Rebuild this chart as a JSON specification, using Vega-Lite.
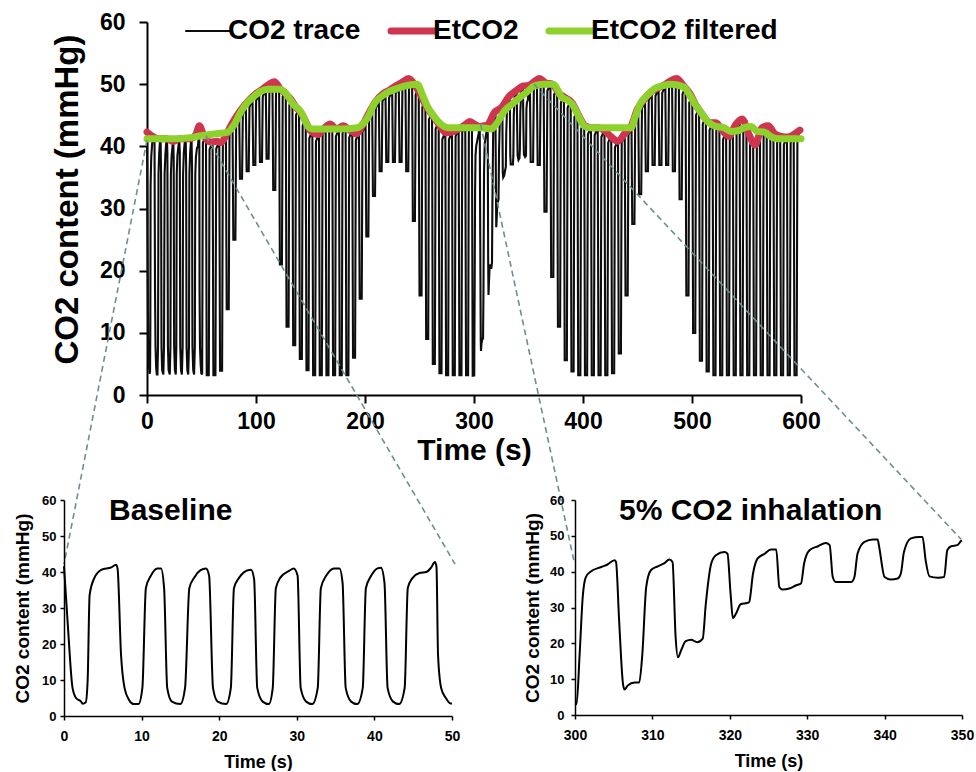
{
  "$schema": "https://vega.github.io/schema/vega-lite/v6.json",
  "padding": {"left": 13, "top": 11, "right": 0, "bottom": 0},
  "bounds": "flush",
  "spacing": 478,
  "config": {
    "font": "Liberation Sans",
    "view": {"stroke": null},
    "axis": {"labelFont": "Liberation Sans", "titleFont": "Liberation Sans", "labelFontWeight": "bold", "titleFontWeight": "bold", "labelColor": "black", "titleColor": "black", "domainColor": "black", "tickColor": "black", "grid": false, "labelFlush": false, "labelOverlap": false}
  },
  "datasets": {
    "trace": [
      {"t":0,"v":41.6},{"t":0.5,"v":25},{"t":1.1,"v":7.8},{"t":1.55,"v":5},{"t":2.2,"v":4},{"t":2.4,"v":3.4},{"t":2.8,"v":3.8},{"t":3.05,"v":10},{"t":3.3,"v":33.6},{"t":3.9,"v":38.3},{"t":4.8,"v":40.6},{"t":6.1,"v":41.3},{"t":6.7,"v":42},{"t":6.9,"v":41},{"t":7.35,"v":17},{"t":7.8,"v":7.8},{"t":8.4,"v":4.4},{"t":9,"v":3.3},{"t":9.6,"v":3.3},{"t":10.1,"v":7.8},{"t":10.55,"v":35.5},{"t":11.2,"v":39},{"t":12,"v":41},{"t":12.5,"v":41},{"t":12.9,"v":35.5},{"t":13.3,"v":7.8},{"t":13.9,"v":4},{"t":15,"v":3.3},{"t":15.6,"v":7.8},{"t":16.15,"v":35.5},{"t":16.8,"v":38.5},{"t":17.6,"v":40.5},{"t":18.3,"v":41},{"t":18.7,"v":39},{"t":19.2,"v":7.8},{"t":19.8,"v":4},{"t":20.9,"v":3.3},{"t":21.5,"v":7.8},{"t":21.9,"v":35.5},{"t":22.6,"v":38.5},{"t":23.7,"v":40.5},{"t":24.1,"v":40.6},{"t":24.5,"v":38},{"t":24.9,"v":7.8},{"t":25.6,"v":4},{"t":26.4,"v":3.3},{"t":26.9,"v":7.8},{"t":27.3,"v":35.5},{"t":27.9,"v":38.5},{"t":29,"v":40.3},{"t":29.6,"v":41},{"t":30.1,"v":39},{"t":30.5,"v":7.8},{"t":31.2,"v":4},{"t":32,"v":3.3},{"t":32.7,"v":7.8},{"t":33.1,"v":35.5},{"t":33.8,"v":39},{"t":34.8,"v":41},{"t":35.5,"v":41},{"t":35.9,"v":37},{"t":36.3,"v":7.8},{"t":37,"v":4},{"t":37.8,"v":3.3},{"t":38.5,"v":7.8},{"t":38.9,"v":35.5},{"t":39.6,"v":39},{"t":40.4,"v":41},{"t":40.85,"v":41.2},{"t":41.3,"v":37},{"t":41.7,"v":7.8},{"t":42.4,"v":4},{"t":43.2,"v":3.3},{"t":43.9,"v":7.8},{"t":44.3,"v":35.5},{"t":44.9,"v":38.3},{"t":45.8,"v":39.7},{"t":46.7,"v":40},{"t":47.3,"v":41.2},{"t":47.8,"v":42.8},{"t":48,"v":41.5},{"t":48.2,"v":17},{"t":48.6,"v":7.8},{"t":49.2,"v":5},{"t":49.8,"v":3.5},{"t":50,"v":3.5},
      {"t":50.6,"v":3.3},{"t":51.3,"v":40.6},{"t":54.1,"v":41.8},{"t":54.8,"v":3.2},
      {"t":56.7,"v":3.2},{"t":57.4,"v":39.5},{"t":60.2,"v":40.7},{"t":60.9,"v":3.2},
      {"t":62.8,"v":3.2},{"t":63.5,"v":39.6},{"t":66.3,"v":40.8},{"t":67,"v":3.9},
      {"t":68.9,"v":3.9},{"t":69.6,"v":40.4},{"t":72.4,"v":41.6},{"t":73.1,"v":13.8},
      {"t":75,"v":13.8},{"t":75.7,"v":41.8},{"t":78.5,"v":43},{"t":79.2,"v":25},
      {"t":81.1,"v":25},{"t":81.8,"v":43.6},{"t":84.6,"v":44.8},{"t":85.3,"v":34.8},
      {"t":87.2,"v":34.8},{"t":87.9,"v":45.1},{"t":90.7,"v":46.3},{"t":91.4,"v":36},
      {"t":93.3,"v":36},{"t":94,"v":46.3},{"t":96.8,"v":47.5},{"t":97.5,"v":37},
      {"t":99.4,"v":37},{"t":100.1,"v":47.3},{"t":102.9,"v":48.5},{"t":103.6,"v":37.5},
      {"t":105.5,"v":37.5},{"t":106.2,"v":48},{"t":109,"v":49.2},{"t":109.7,"v":38},
      {"t":111.6,"v":38},{"t":112.3,"v":48.8},{"t":115.1,"v":50},{"t":115.8,"v":33},
      {"t":117.7,"v":33},{"t":118.4,"v":49.1},{"t":121.2,"v":50.3},{"t":121.9,"v":21},
      {"t":123.8,"v":21},{"t":124.5,"v":48},{"t":127.3,"v":49.2},{"t":128,"v":11},
      {"t":129.9,"v":11},{"t":130.6,"v":46.6},{"t":133.4,"v":47.8},{"t":134.1,"v":8},
      {"t":136,"v":8},{"t":136.7,"v":45},{"t":139.5,"v":46.2},{"t":140.2,"v":5.8},
      {"t":142.1,"v":5.8},{"t":142.8,"v":43.3},{"t":145.6,"v":44.5},{"t":146.3,"v":4},
      {"t":148.2,"v":4},{"t":148.9,"v":41.3},{"t":151.7,"v":42.5},{"t":152.4,"v":3.2},
      {"t":154.3,"v":3.2},{"t":155,"v":40.8},{"t":157.8,"v":42},{"t":158.5,"v":3.2},
      {"t":160.4,"v":3.2},{"t":161.1,"v":41.9},{"t":163.9,"v":43.1},{"t":164.6,"v":3.2},
      {"t":166.5,"v":3.2},{"t":167.2,"v":42.4},{"t":170,"v":43.6},{"t":170.7,"v":3.2},
      {"t":172.6,"v":3.2},{"t":173.3,"v":41.6},{"t":176.1,"v":42.8},{"t":176.8,"v":3.2},
      {"t":178.7,"v":3.2},{"t":179.4,"v":42.1},{"t":182.2,"v":43.3},{"t":182.9,"v":3.2},
      {"t":184.8,"v":3.2},{"t":185.5,"v":41.4},{"t":188.3,"v":42.6},{"t":189,"v":6},
      {"t":190.9,"v":6},{"t":191.6,"v":41},{"t":194.4,"v":42.2},{"t":195.1,"v":15.5},
      {"t":197,"v":15.5},{"t":197.7,"v":42.3},{"t":200.5,"v":43.5},{"t":201.2,"v":25.5},
      {"t":203.1,"v":25.5},{"t":203.8,"v":44.3},{"t":206.6,"v":45.5},{"t":207.3,"v":32},
      {"t":209.2,"v":32},{"t":209.9,"v":46.1},{"t":212.7,"v":47.3},{"t":213.4,"v":36},
      {"t":215.3,"v":36},{"t":216,"v":47.2},{"t":218.8,"v":48.4},{"t":219.5,"v":37.5},
      {"t":221.4,"v":37.5},{"t":222.1,"v":47.8},{"t":224.9,"v":49},{"t":225.6,"v":37.5},
      {"t":227.5,"v":37.5},{"t":228.2,"v":48.5},{"t":231,"v":49.7},{"t":231.7,"v":37.5},
      {"t":233.6,"v":37.5},{"t":234.3,"v":49.1},{"t":237.1,"v":50.3},{"t":237.8,"v":36},
      {"t":239.7,"v":36},{"t":240.4,"v":49.7},{"t":243.2,"v":50.9},{"t":243.9,"v":28},
      {"t":245.8,"v":28},{"t":246.5,"v":48.3},{"t":249.3,"v":49.5},{"t":250,"v":16},
      {"t":251.9,"v":16},{"t":252.6,"v":46.3},{"t":255.4,"v":47.5},{"t":256.1,"v":9},
      {"t":258,"v":9},{"t":258.7,"v":44.3},{"t":261.5,"v":45.5},{"t":262.2,"v":5},
      {"t":264.1,"v":5},{"t":264.8,"v":42.8},{"t":267.6,"v":44},{"t":268.3,"v":3.5},
      {"t":270.2,"v":3.5},{"t":270.9,"v":41.1},{"t":273.7,"v":42.3},{"t":274.4,"v":3.2},
      {"t":276.3,"v":3.2},{"t":277,"v":41.1},{"t":279.8,"v":42.3},{"t":280.5,"v":3.2},
      {"t":282.4,"v":3.2},{"t":283.1,"v":41.6},{"t":285.9,"v":42.8},{"t":286.6,"v":3.2},
      {"t":288.5,"v":3.2},{"t":289.2,"v":42.3},{"t":292,"v":43.5},{"t":292.7,"v":3.2},
      {"t":294.6,"v":3.2},{"t":295.3,"v":42.8},{"t":298.1,"v":44},{"t":298.8,"v":3.1},
      {"t":300,"v":3.1},{"t":300.2,"v":3},{"t":300.6,"v":17},{"t":301,"v":33},{"t":301.4,"v":38.5},{"t":302,"v":40},{"t":303.4,"v":41.3},{"t":304.2,"v":42},{"t":305.1,"v":43.2},{"t":305.3,"v":42.7},{"t":305.7,"v":26.4},{"t":306.2,"v":8.7},{"t":306.4,"v":7.1},{"t":306.8,"v":8.2},{"t":307.7,"v":9.1},{"t":308.3,"v":9.1},{"t":308.7,"v":17},{"t":309.2,"v":35.7},{"t":309.8,"v":40.4},{"t":310.7,"v":41.5},{"t":311.5,"v":42.3},{"t":312.2,"v":43.4},{"t":312.6,"v":42.7},{"t":313,"v":21.7},{"t":313.3,"v":16.1},{"t":313.7,"v":18},{"t":314.3,"v":20.6},{"t":315,"v":21},{"t":315.8,"v":20.3},{"t":316.5,"v":21.3},{"t":316.9,"v":31},{"t":317.6,"v":42.3},{"t":318.2,"v":44.6},{"t":319.3,"v":45.5},{"t":319.7,"v":45},{"t":320.1,"v":33.9},{"t":320.4,"v":27},{"t":320.8,"v":28.3},{"t":321.4,"v":30.9},{"t":322.3,"v":31.3},{"t":322.5,"v":31.5},{"t":323,"v":39.5},{"t":323.6,"v":43.7},{"t":324.5,"v":45},{"t":325.3,"v":46.2},{"t":326,"v":46.2},{"t":326.4,"v":35.7},{"t":326.8,"v":35},{"t":327.7,"v":35.3},{"t":328.6,"v":36.2},{"t":329.2,"v":36.7},{"t":329.6,"v":42.3},{"t":330.3,"v":46},{"t":331.4,"v":47.1},{"t":332.4,"v":48},{"t":332.9,"v":47.4},{"t":333.3,"v":38.5},{"t":333.7,"v":37.1},{"t":335.7,"v":37.1},{"t":336.1,"v":38.5},{"t":336.5,"v":45},{"t":337.4,"v":48.3},{"t":338.5,"v":49},{"t":339.1,"v":49},{"t":339.3,"v":46.9},{"t":340,"v":38.5},{"t":340.8,"v":37.8},{"t":341.7,"v":38.1},{"t":342.1,"v":39.5},{"t":342.5,"v":45.5},{"t":343.4,"v":49.3},{"t":344.5,"v":49.7},{"t":344.9,"v":49.7},{"t":345.3,"v":43.2},{"t":345.8,"v":38.7},{"t":346.9,"v":38.3},{"t":347.7,"v":38.5},{"t":348.1,"v":46},{"t":348.6,"v":47.1},{"t":349.4,"v":47.4},{"t":349.9,"v":48.6},{"t":350,"v":48.7},
      {"t":351.3,"v":49.5},{"t":352,"v":37.5},
      {"t":354.2,"v":37.5},{"t":354.9,"v":49.3},{"t":357.7,"v":50.5},{"t":358.4,"v":37},
      {"t":360.4,"v":37},{"t":361.1,"v":49.7},{"t":363.9,"v":50.9},{"t":364.6,"v":29.5},
      {"t":366.6,"v":29.5},{"t":367.3,"v":48.9},{"t":370.1,"v":50.1},{"t":370.8,"v":19},
      {"t":372.8,"v":19},{"t":373.5,"v":48.3},{"t":376.3,"v":49.5},{"t":377,"v":11},
      {"t":379,"v":11},{"t":379.7,"v":47},{"t":382.5,"v":48.2},{"t":383.2,"v":5.6},
      {"t":385.2,"v":5.6},{"t":385.9,"v":46.2},{"t":388.7,"v":47.4},{"t":389.4,"v":3.8},
      {"t":391.4,"v":3.8},{"t":392.1,"v":44.7},{"t":394.9,"v":45.9},{"t":395.6,"v":3.2},
      {"t":397.6,"v":3.2},{"t":398.3,"v":42.8},{"t":401.1,"v":44},{"t":401.8,"v":3.2},
      {"t":403.8,"v":3.2},{"t":404.5,"v":41.9},{"t":407.3,"v":43.1},{"t":408,"v":3.2},
      {"t":410,"v":3.2},{"t":410.7,"v":41.8},{"t":413.5,"v":43},{"t":414.2,"v":3.2},
      {"t":416.2,"v":3.2},{"t":416.9,"v":41.5},{"t":419.7,"v":42.7},{"t":420.4,"v":3.2},
      {"t":422.4,"v":3.2},{"t":423.1,"v":40.6},{"t":425.9,"v":41.8},{"t":426.6,"v":3.5},
      {"t":428.6,"v":3.5},{"t":429.3,"v":39.8},{"t":432.1,"v":41},{"t":432.8,"v":6.7},
      {"t":434.8,"v":6.7},{"t":435.5,"v":40.6},{"t":438.3,"v":41.8},{"t":439,"v":16},
      {"t":441,"v":16},{"t":441.7,"v":41.8},{"t":444.5,"v":43},{"t":445.2,"v":27.5},
      {"t":447.2,"v":27.5},{"t":447.9,"v":44.4},{"t":450.7,"v":45.6},{"t":451.4,"v":32.3},
      {"t":453.4,"v":32.3},{"t":454.1,"v":46.1},{"t":456.9,"v":47.3},{"t":457.6,"v":36},
      {"t":459.6,"v":36},{"t":460.3,"v":47.4},{"t":463.1,"v":48.6},{"t":463.8,"v":37},
      {"t":465.8,"v":37},{"t":466.5,"v":48.1},{"t":469.3,"v":49.3},{"t":470,"v":37},
      {"t":472,"v":37},{"t":472.7,"v":48.6},{"t":475.5,"v":49.8},{"t":476.2,"v":37},
      {"t":478.2,"v":37},{"t":478.9,"v":49.3},{"t":481.7,"v":50.5},{"t":482.4,"v":36},
      {"t":484.4,"v":36},{"t":485.1,"v":49.7},{"t":487.9,"v":50.9},{"t":488.6,"v":31.5},
      {"t":490.6,"v":31.5},{"t":491.3,"v":48.4},{"t":494.1,"v":49.6},{"t":494.8,"v":16},
      {"t":496.8,"v":16},{"t":497.5,"v":47},{"t":500.3,"v":48.2},{"t":501,"v":10},
      {"t":503,"v":10},{"t":503.7,"v":45},{"t":506.5,"v":46.2},{"t":507.2,"v":5.5},
      {"t":509.2,"v":5.5},{"t":509.9,"v":43.6},{"t":512.7,"v":44.8},{"t":513.4,"v":3.8},
      {"t":515.4,"v":3.8},{"t":516.1,"v":42.6},{"t":518.9,"v":43.8},{"t":519.6,"v":3.2},
      {"t":521.6,"v":3.2},{"t":522.3,"v":42.6},{"t":525.1,"v":43.8},{"t":525.8,"v":3.2},
      {"t":527.8,"v":3.2},{"t":528.5,"v":41.1},{"t":531.3,"v":42.3},{"t":532,"v":3.2},
      {"t":534,"v":3.2},{"t":534.7,"v":41},{"t":537.5,"v":42.2},{"t":538.2,"v":3.2},
      {"t":540.2,"v":3.2},{"t":540.9,"v":42.6},{"t":543.7,"v":43.8},{"t":544.4,"v":3.2},
      {"t":546.4,"v":3.2},{"t":547.1,"v":43},{"t":549.9,"v":44.2},{"t":550.6,"v":3.2},
      {"t":552.6,"v":3.2},{"t":553.3,"v":40.2},{"t":556.1,"v":41.4},{"t":556.8,"v":3.2},
      {"t":558.8,"v":3.2},{"t":559.5,"v":40},{"t":562.3,"v":41.2},{"t":563,"v":3.2},
      {"t":565,"v":3.2},{"t":565.7,"v":42},{"t":568.5,"v":43.2},{"t":569.2,"v":3.2},
      {"t":571.2,"v":3.2},{"t":571.9,"v":41.5},{"t":574.7,"v":42.7},{"t":575.4,"v":3.2},
      {"t":577.4,"v":3.2},{"t":578.1,"v":40.6},{"t":580.9,"v":41.8},{"t":581.6,"v":3.2},
      {"t":583.6,"v":3.2},{"t":584.3,"v":40.3},{"t":587.1,"v":41.5},{"t":587.8,"v":3.2},
      {"t":589.8,"v":3.2},{"t":590.5,"v":40.6},{"t":593.3,"v":41.8},{"t":594,"v":3.2},
      {"t":596,"v":3.2},{"t":596.7,"v":41.4},{"t":599.5,"v":42.6}
    ],
    "etco2": [
      {"t":0,"v":42.3},{"t":6,"v":41.5},{"t":12,"v":41.2},{"t":18,"v":41.2},{"t":24,"v":40.8},{"t":30,"v":41.2},{"t":36,"v":41.2},{"t":41,"v":41.3},{"t":45,"v":42},{"t":48,"v":43.3},{"t":52,"v":41.8},{"t":58,"v":40.7},{"t":64,"v":40.8},{"t":68,"v":40.6},{"t":72,"v":41.6},{"t":76,"v":43},{"t":82,"v":44.8},{"t":88,"v":46.3},{"t":94,"v":47.5},{"t":100,"v":48.5},{"t":106,"v":49.2},{"t":112,"v":50},{"t":117,"v":50.4},{"t":122,"v":49.3},{"t":128,"v":48.3},{"t":132,"v":47.6},{"t":137,"v":46.2},{"t":141,"v":45.5},{"t":145,"v":44.2},{"t":150,"v":42.5},{"t":157,"v":41.9},{"t":163,"v":43},{"t":168,"v":43.6},{"t":174,"v":42.8},{"t":180,"v":43.3},{"t":186,"v":42.6},{"t":192,"v":42},{"t":198,"v":43.5},{"t":204,"v":45.5},{"t":210,"v":47.3},{"t":216,"v":48.4},{"t":222,"v":49},{"t":228,"v":49.7},{"t":234,"v":50.3},{"t":240,"v":50.9},{"t":246,"v":49.8},{"t":250,"v":48.6},{"t":256,"v":46.5},{"t":262,"v":45},{"t":268,"v":43.5},{"t":274,"v":42.2},{"t":280,"v":42.3},{"t":286,"v":42.8},{"t":292,"v":43.5},{"t":296,"v":44},{"t":300,"v":43.6},{"t":305,"v":43.2},{"t":312,"v":43.4},{"t":319,"v":45.5},{"t":325,"v":46.2},{"t":332,"v":48},{"t":339,"v":49},{"t":345,"v":49.7},{"t":350,"v":49.8},{"t":356,"v":50.5},{"t":360,"v":50.9},{"t":366,"v":50.2},{"t":372,"v":50},{"t":378,"v":48.5},{"t":384,"v":47.8},{"t":390,"v":47},{"t":396,"v":45},{"t":402,"v":43.3},{"t":408,"v":43},{"t":414,"v":43},{"t":420,"v":42.5},{"t":426,"v":41.5},{"t":432,"v":40.8},{"t":438,"v":42},{"t":444,"v":43.2},{"t":450,"v":46},{"t":456,"v":47.5},{"t":462,"v":48.7},{"t":468,"v":49.3},{"t":474,"v":49.8},{"t":480,"v":50.5},{"t":486,"v":50.9},{"t":492,"v":49.8},{"t":498,"v":48.5},{"t":504,"v":46.5},{"t":510,"v":45},{"t":516,"v":43.8},{"t":522,"v":43.8},{"t":528,"v":42.5},{"t":534,"v":41.6},{"t":540,"v":43.5},{"t":546,"v":44.4},{"t":552,"v":42},{"t":558,"v":40.2},{"t":564,"v":43},{"t":570,"v":43.3},{"t":576,"v":42},{"t":582,"v":41.6},{"t":588,"v":41.5},{"t":594,"v":42},{"t":599,"v":42.6}
    ],
    "filtered": [
      {"t":0,"v":41.2},{"t":20,"v":41.2},{"t":40,"v":41.4},{"t":50,"v":41.7},{"t":62,"v":42},{"t":74,"v":42.3},{"t":80,"v":43.5},{"t":86,"v":45.5},{"t":92,"v":47},{"t":98,"v":48},{"t":104,"v":48.8},{"t":111,"v":49.2},{"t":122,"v":49.2},{"t":127,"v":48.6},{"t":131,"v":47.6},{"t":135,"v":46.6},{"t":139,"v":46},{"t":143,"v":45},{"t":147,"v":43.4},{"t":152,"v":42.8},{"t":178,"v":42.8},{"t":193,"v":43},{"t":199,"v":43.8},{"t":203,"v":44.8},{"t":209,"v":47},{"t":215,"v":48},{"t":221,"v":48.7},{"t":228,"v":49.2},{"t":236,"v":49.7},{"t":248,"v":50},{"t":252,"v":48.6},{"t":257,"v":46.5},{"t":263,"v":44.9},{"t":270,"v":43.5},{"t":276,"v":43},{"t":306,"v":43},{"t":316,"v":42.8},{"t":322,"v":44},{"t":328,"v":45.7},{"t":335,"v":46.8},{"t":343,"v":48},{"t":349,"v":48.8},{"t":355,"v":49.7},{"t":364,"v":50},{"t":373,"v":50},{"t":377,"v":49},{"t":380,"v":48},{"t":386,"v":47.4},{"t":390,"v":46.8},{"t":395,"v":45.2},{"t":401,"v":43.3},{"t":406,"v":43},{"t":444,"v":43},{"t":448,"v":44.8},{"t":453,"v":47},{"t":459,"v":48.2},{"t":465,"v":49.2},{"t":472,"v":49.7},{"t":481,"v":50},{"t":493,"v":49.5},{"t":497,"v":48.5},{"t":502,"v":47},{"t":508,"v":45.5},{"t":515,"v":43.9},{"t":522,"v":43.2},{"t":529,"v":43},{"t":536,"v":42.4},{"t":542,"v":42.5},{"t":548,"v":43},{"t":554,"v":43.2},{"t":560,"v":42.4},{"t":566,"v":42.3},{"t":573,"v":41.5},{"t":579,"v":41.2},{"t":600,"v":41.2}
    ],
    "links": [
      {"t":0,"v":41,"t2":-76.1,"v2":-27.2},
      {"t":54,"v":41.7,"t2":282.6,"v2":-27.2},
      {"t":306,"v":43.6,"t2":391.7,"v2":-26.7},
      {"t":355,"v":50,"t2":746.8,"v2":-23.2}
    ]
  },
  "vconcat": [
    {
      "bounds": "flush",
      "spacing": 20,
      "hconcat": [
        {
          "width": 63, "height": 373,
          "data": {"values": [{"a": 0}]},
          "mark": {"type": "point", "opacity": 0},
          "encoding": {}
        },
        {
          "width": 654, "height": 373,
          "encoding": {
            "x": {"field": "t", "type": "quantitative", "scale": {"domain": [0, 600], "nice": false},
              "axis": {"values": [0,100,200,300,400,500,600], "title": "Time (s)", "titleFontSize": 30, "labelFontSize": 23, "tickSize": 8, "tickWidth": 2, "domainWidth": 2, "labelPadding": 7, "titlePadding": 2}},
            "y": {"field": "v", "type": "quantitative", "scale": {"domain": [0, 60], "nice": false},
              "axis": {"values": [0,10,20,30,40,50,60], "title": "CO2 content (mmHg)", "titleFontSize": 33, "titleY": 177, "labelFontSize": 23, "tickSize": 8, "tickWidth": 2, "domainWidth": 2, "labelPadding": 14, "titlePadding": 15}}
          },
          "layer": [
            {
              "data": {"name": "trace"},
              "mark": {"type": "line", "strokeWidth": 2.1},
              "encoding": {
                "color": {"datum": "CO2 trace", "type": "nominal",
                  "scale": {"domain": ["CO2 trace", "EtCO2", "EtCO2 filtered"], "range": ["#0d0d0d", "#d0354f", "#8ed12c"]},
                  "legend": {"orient": "none", "legendX": 130, "legendY": -5, "direction": "horizontal", "title": null, "padding": 0,
                    "symbolType": "stroke", "symbolSize": 1936, "symbolStrokeWidth": 7, "labelFontSize": 28, "labelFontWeight": "bold", "labelFont": "Liberation Sans", "labelColor": "black", "labelLimit": 400, "labelOffset": 6, "columnPadding": 16,
                    "encode": {"symbols": {"update": {"strokeWidth": {"signal": "datum.value === 'CO2 trace' ? 2 : 7"}, "strokeCap": {"value": "round"}}}}}
                }
              }
            },
            {
              "data": {"name": "etco2"},
              "mark": {"type": "line", "strokeWidth": 7, "interpolate": "monotone", "strokeCap": "round"},
              "encoding": {"color": {"datum": "EtCO2", "type": "nominal"}}
            },
            {
              "data": {"name": "filtered"},
              "mark": {"type": "line", "strokeWidth": 7, "interpolate": "monotone", "strokeCap": "round"},
              "encoding": {"color": {"datum": "EtCO2 filtered", "type": "nominal"}}
            },
            {
              "data": {"name": "links"},
              "mark": {"type": "rule", "strokeDash": [6, 4], "strokeWidth": 1.6, "color": "#6c8f8f"},
              "encoding": {"x2": {"field": "t2"}, "y2": {"field": "v2"}}
            }
          ]
        }
      ]
    },
    {
      "bounds": "flush",
      "spacing": 123,
      "hconcat": [
        {
          "width": 388, "height": 216,
          "title": {"text": "Baseline", "anchor": "start", "frame": "group", "dx": 45, "offset": -32, "fontSize": 30, "fontWeight": "bold", "font": "Liberation Sans", "color": "black"},
          "data": {"name": "trace"},
          "transform": [{"filter": "datum.t <= 50"}],
          "mark": {"type": "line", "color": "black", "strokeWidth": 2, "interpolate": "monotone"},
          "encoding": {
            "x": {"field": "t", "type": "quantitative", "scale": {"domain": [0, 50], "nice": false},
              "axis": {"values": [0,10,20,30,40,50], "title": "Time (s)", "titleFontSize": 18, "labelFontSize": 14, "tickSize": 4, "tickWidth": 1.5, "domainWidth": 1.5, "labelPadding": 9, "titlePadding": 10}},
            "y": {"field": "v", "type": "quantitative", "scale": {"domain": [0, 60], "nice": false},
              "axis": {"values": [0,10,20,30,40,50,60], "title": "CO2 content (mmHg)", "titleFontSize": 19, "labelFontSize": 13, "tickSize": 4, "tickWidth": 1.5, "domainWidth": 1.5, "labelPadding": 4, "titlePadding": 9}}
          }
        },
        {
          "width": 387, "height": 215,
          "title": {"text": "5% CO2 inhalation", "anchor": "start", "frame": "group", "dx": 44, "offset": -32, "fontSize": 30, "fontWeight": "bold", "font": "Liberation Sans", "color": "black"},
          "data": {"name": "trace"},
          "transform": [{"filter": "datum.t >= 300 && datum.t <= 350"}],
          "mark": {"type": "line", "color": "black", "strokeWidth": 2, "interpolate": "monotone"},
          "encoding": {
            "x": {"field": "t", "type": "quantitative", "scale": {"domain": [300, 350], "nice": false},
              "axis": {"values": [300,310,320,330,340,350], "title": "Time (s)", "titleFontSize": 18, "labelFontSize": 14, "tickSize": 4, "tickWidth": 1.5, "domainWidth": 1.5, "labelPadding": 9, "titlePadding": 10}},
            "y": {"field": "v", "type": "quantitative", "scale": {"domain": [0, 60], "nice": false},
              "axis": {"values": [0,10,20,30,40,50,60], "title": "CO2 content (mmHg)", "titleFontSize": 19, "labelFontSize": 13, "tickSize": 4, "tickWidth": 1.5, "domainWidth": 1.5, "labelPadding": 7, "titlePadding": 7}}
          }
        }
      ]
    }
  ]
}
